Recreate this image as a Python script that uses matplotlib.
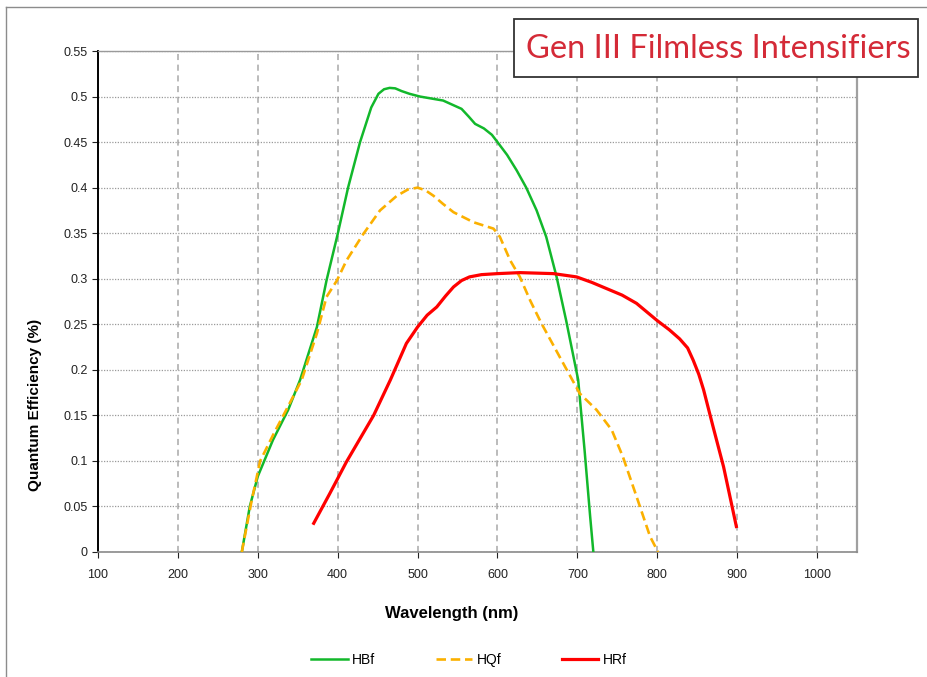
import matplotlib
matplotlib.use("Agg")
import matplotlib.pyplot as plt
from matplotlib.patches import Rectangle
from matplotlib.lines import Line2D

plt.rcParams['font.family'] = ['Liberation Sans', 'DejaVu Sans']

# values (wavelength nm, QE)
hbf_x = [280, 290, 300, 319, 338, 353, 374, 386, 400, 413, 428, 442, 451, 458, 465, 472, 480, 490, 503,
         532, 555, 564, 572, 583, 593, 600, 612, 624, 636, 649, 661, 674, 686, 701, 709, 716, 720]
hbf_y = [0.0, 0.05, 0.083, 0.123, 0.156, 0.189, 0.247, 0.298, 0.349, 0.40, 0.45, 0.488, 0.503, 0.508, 0.5095, 0.509, 0.506, 0.503, 0.50,
         0.4956, 0.4865, 0.478, 0.470, 0.465, 0.458, 0.45, 0.436, 0.419, 0.40, 0.375, 0.346, 0.302, 0.254, 0.189, 0.112, 0.039, 0.0]

hqf_x = [280, 292, 303, 320, 338, 355, 374, 386, 399, 411, 432, 453, 474, 488, 500, 510, 520, 532, 545,
         570, 595, 603, 616, 628, 641, 655, 678, 703, 724, 743, 757, 774, 791, 801]
hqf_y = [0.0, 0.055, 0.10, 0.13, 0.16, 0.189, 0.24, 0.28, 0.298, 0.32, 0.349, 0.375, 0.391, 0.398, 0.40, 0.397, 0.391, 0.382, 0.373,
         0.362, 0.355, 0.346, 0.32, 0.302, 0.276, 0.251, 0.214, 0.174, 0.156, 0.134, 0.1045, 0.061, 0.017, 0.0]

hrf_x = [370, 390, 411, 445, 466, 486, 500, 512, 524, 535, 545, 555, 565, 580, 600, 628, 670, 699, 718, 737, 756, 774,
         800, 815, 828, 838, 845, 852, 858, 870, 883, 899]
hrf_y = [0.0315, 0.064, 0.099, 0.150, 0.189, 0.229, 0.247, 0.260, 0.269, 0.281, 0.291, 0.298, 0.302, 0.3045, 0.3056, 0.3067, 0.3056, 0.302,
         0.296, 0.289, 0.282, 0.273, 0.254, 0.244, 0.234, 0.224, 0.2105, 0.195, 0.178, 0.137, 0.0935, 0.028]

x_ticks = list(range(100, 1001, 100))
y_ticks = [0, 0.05, 0.1, 0.15, 0.2, 0.25, 0.3, 0.35, 0.4, 0.45, 0.5, 0.55]
y_labels = ['0', '0.05', '0.1', '0.15', '0.2', '0.25', '0.3', '0.35', '0.4', '0.45', '0.5', '0.55']

W, H = 927, 677
fig = plt.figure(figsize=(W / 100, H / 100), dpi=100)
ax = fig.add_axes([98 / W, 1 - 552 / H, (857 - 98) / W, (552 - 51) / H])

ax.plot(hbf_x, hbf_y, color='#12b82b', lw=1.8, label='HBf', zorder=3, solid_joinstyle='round')
ax.plot(hqf_x, hqf_y, color='#fbb000', lw=1.9, ls=(0, (3.6, 1.8)), label='HQf', zorder=3)
ax.plot(hrf_x, hrf_y, color='#ff0000', lw=2.3, label='HRf', zorder=3, solid_joinstyle='round')

ax.set_xlim(100, 1050)
ax.set_ylim(0, 0.55)
ax.set_xticks(x_ticks)
ax.set_yticks(y_ticks)
ax.set_yticklabels(y_labels)
ax.tick_params(labelsize=9, colors='#222222', direction='out', length=4, width=0.8)
ax.tick_params(axis='x', pad=8)

# grid: dashed verticals, dotted horizontals
ax.xaxis.grid(True, color='#a8a8a8', ls=(0, (4, 3)), lw=1.1)
ax.yaxis.grid(True, color='#9a9a9a', ls=(0, (1, 1.2)), lw=0.9)
ax.set_axisbelow(True)

ax.spines['left'].set_color('black')
ax.spines['left'].set_linewidth(1.4)
ax.spines['bottom'].set_color('#8a8a8a')
ax.spines['bottom'].set_linewidth(1.2)
ax.spines['top'].set_color('#9a9a9a')
ax.spines['top'].set_linewidth(1.0)
ax.spines['right'].set_color('#a0a0a0')
ax.spines['right'].set_linewidth(1.6)

ax.set_xlabel('Wavelength (nm)', fontsize=12, fontweight='bold')
ax.xaxis.set_label_coords((452 - 98) / 759, (552 - 606) / 501)
ax.set_ylabel('Quantum Efficiency (%)', fontsize=11, fontweight='bold')
ax.yaxis.set_label_coords((42 - 98) / 759, (552 - 405) / 501)

# outer frame lines
fig.add_artist(Line2D([6 / W, 1], [1 - 7 / H, 1 - 7 / H], color='#8c8c8c', lw=1.0))
fig.add_artist(Line2D([6 / W, 6 / W], [0, 1 - 7 / H], color='#8c8c8c', lw=1.0))

# title box
fig.add_artist(Rectangle((514 / W, 1 - 77 / H), (918 - 514) / W, (77 - 19) / H,
                         transform=fig.transFigure, facecolor='white',
                         edgecolor='#333333', lw=1.3, zorder=5))
fig.text(718 / W, 1 - 49 / H, 'Gen III Filmless Intensifiers', fontsize=23.5,
         family=['Lato', 'DejaVu Sans'], color='#d42a37', ha='center', va='center', zorder=6)

fig.legend(loc='center', bbox_to_anchor=(469 / W, 1 - 660 / H), ncol=3, frameon=False,
           fontsize=10, handlelength=2.6, handletextpad=0.3, columnspacing=4.4)

fig.savefig('out.png', dpi=100)
